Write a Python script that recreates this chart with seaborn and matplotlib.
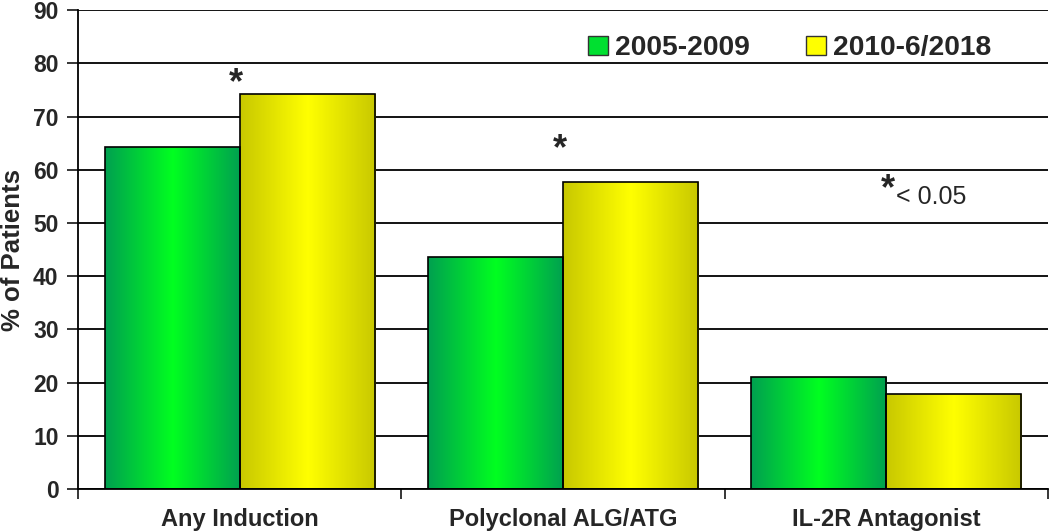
import numpy as np
import pandas as pd
import matplotlib
matplotlib.use('Agg')
import matplotlib.pyplot as plt
import seaborn as sns
from matplotlib.colors import LinearSegmentedColormap
from matplotlib.patches import Patch

categorias = ['Any Induction', 'Polyclonal ALG/ATG', 'IL-2R Antagonist']
periodos = ['2005-2009', '2010-6/2018']
valores_2005_2009 = [64.3, 43.6, 21.0]
valores_2010_2018 = [74.2, 57.7, 17.9]
# distância do asterisco acima da barra amarela (None = sem asterisco)
asterisco_offset = [2.0, 6.0, None]

df = pd.DataFrame({
    'categoria': categorias * 2,
    'periodo': [periodos[0]] * 3 + [periodos[1]] * 3,
    'valor': valores_2005_2009 + valores_2010_2018,
})

sns.set_style('white')
plt.rcParams['font.family'] = ['Liberation Sans', 'DejaVu Sans']

fig = plt.figure(figsize=(10.5, 5.31), dpi=100)
ax = fig.add_axes([0.0743, 0.079, 0.9237, 0.902])

ax.yaxis.grid(True, color='black', linewidth=1.3)
ax.set_axisbelow(True)

cores = {'2005-2009': '#00e030', '2010-6/2018': '#ffff00'}
sns.barplot(data=df, x='categoria', y='valor', hue='periodo', order=categorias,
            hue_order=periodos, palette=cores, width=0.836, edgecolor='black',
            linewidth=1.2, legend=False, ax=ax)

# degradê nas barras
cmaps = [
    LinearSegmentedColormap.from_list('verde', ['#00a050', '#00ff20', '#00a050']),
    LinearSegmentedColormap.from_list('amarelo', ['#c8c800', '#ffff00', '#c8c800']),
]
grad = np.linspace(0, 1, 256).reshape(1, -1)
for i, cont in enumerate(ax.containers):
    for p in cont:
        x0, y0 = p.get_x(), p.get_y()
        w, h = p.get_width(), p.get_height()
        im = ax.imshow(grad, cmap=cmaps[i], aspect='auto', extent=(x0, x0 + w, y0, y0 + h),
                       zorder=2, interpolation='bilinear')
        im.set_clip_path(p)
        p.set_facecolor('none')
        p.set_zorder(3)

# asteriscos
for j, off in enumerate(asterisco_offset):
    if off is not None:
        p = ax.containers[1][j]
        ax.text(p.get_x() - 0.01, p.get_height() + off, '*', ha='center', va='center',
                fontsize=26, fontweight='bold')
ax.text(2.005, 56.3, '*', ha='center', va='center', fontsize=26, fontweight='bold')
ax.text(2.03, 53.5, '< 0.05', ha='left', va='baseline', fontsize=18)

ax.set_xlim(-0.5, 2.5)
ax.set_ylim(0, 90)
ax.set_yticks(range(0, 91, 10))
ax.set_xticks([-0.5, 0.5, 1.5, 2.5])
ax.set_xticklabels([])
ax.set_xticks(range(3), minor=True)
ax.set_xticklabels(categorias, minor=True, fontsize=17, fontweight='bold')
ax.tick_params(axis='x', which='minor', length=0, pad=14)
ax.tick_params(axis='x', which='major', length=7, width=1.3, direction='out', bottom=True)
ax.tick_params(axis='y', length=8, width=1.3, direction='out', left=True, labelsize=16.5, pad=6)
for t in ax.get_yticklabels():
    t.set_fontweight('bold')

ax.set_xlabel('')
ax.set_ylabel('% of Patients', fontsize=18.5, fontweight='bold', labelpad=6)

for lado in ['top', 'right']:
    ax.spines[lado].set_visible(False)
for lado in ['left', 'bottom']:
    ax.spines[lado].set_color('black')
    ax.spines[lado].set_linewidth(1.3)

handles = [Patch(facecolor=cores[p], edgecolor='#333333', linewidth=1) for p in periodos]
ax.legend(handles, periodos, ncol=2, loc='upper right', bbox_to_anchor=(0.968, 1.0),
          frameon=False, prop={'weight': 'bold', 'size': 20.3}, handlelength=0.7,
          handleheight=0.7, handletextpad=0.25, columnspacing=2.0)

fig.savefig('out.png', dpi=100)
